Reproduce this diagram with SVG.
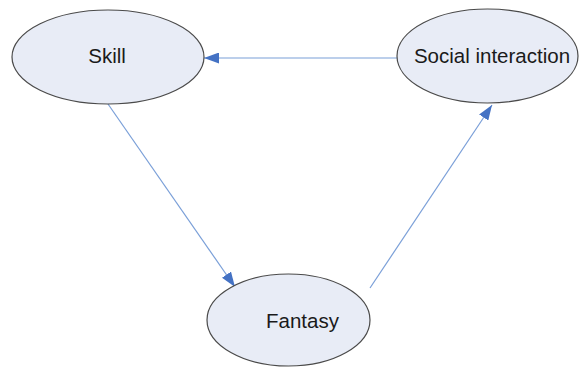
<svg xmlns="http://www.w3.org/2000/svg" width="580" height="367" viewBox="0 0 580 367">
<defs>
<style>
.node ellipse{fill:#E8ECF6;stroke:#4a4a4a;stroke-width:1.2}
.node text{font-family:"Liberation Sans",Arial,sans-serif;font-size:20.5px;fill:#1a1a1a;text-anchor:middle}
.conn line{stroke:#7A9FD8;stroke-width:1.2}
</style>
<marker id="ah" markerWidth="15" markerHeight="11" refX="15" refY="5.5" orient="auto" markerUnits="userSpaceOnUse">
<path d="M0,0 L15,5.5 L0,11 Z" fill="#4472C4"/>
</marker>
</defs>
<g id="connectors" class="conn">
<line x1="397" y1="58" x2="204" y2="58" marker-end="url(#ah)"/>
<line x1="108" y1="104" x2="235" y2="287" marker-end="url(#ah)"/>
<line x1="370" y1="288" x2="492" y2="105" marker-end="url(#ah)"/>
</g>
<g id="skill" class="node">
<ellipse cx="108" cy="57" rx="96" ry="47"/>
<text x="107" y="63">Skill</text>
</g>
<g id="social" class="node">
<ellipse cx="487.5" cy="56" rx="90.5" ry="47"/>
<text x="492" y="63">Social interaction</text>
</g>
<g id="fantasy" class="node">
<ellipse cx="288.5" cy="320" rx="81.5" ry="46"/>
<text x="302.5" y="328">Fantasy</text>
</g>
</svg>
